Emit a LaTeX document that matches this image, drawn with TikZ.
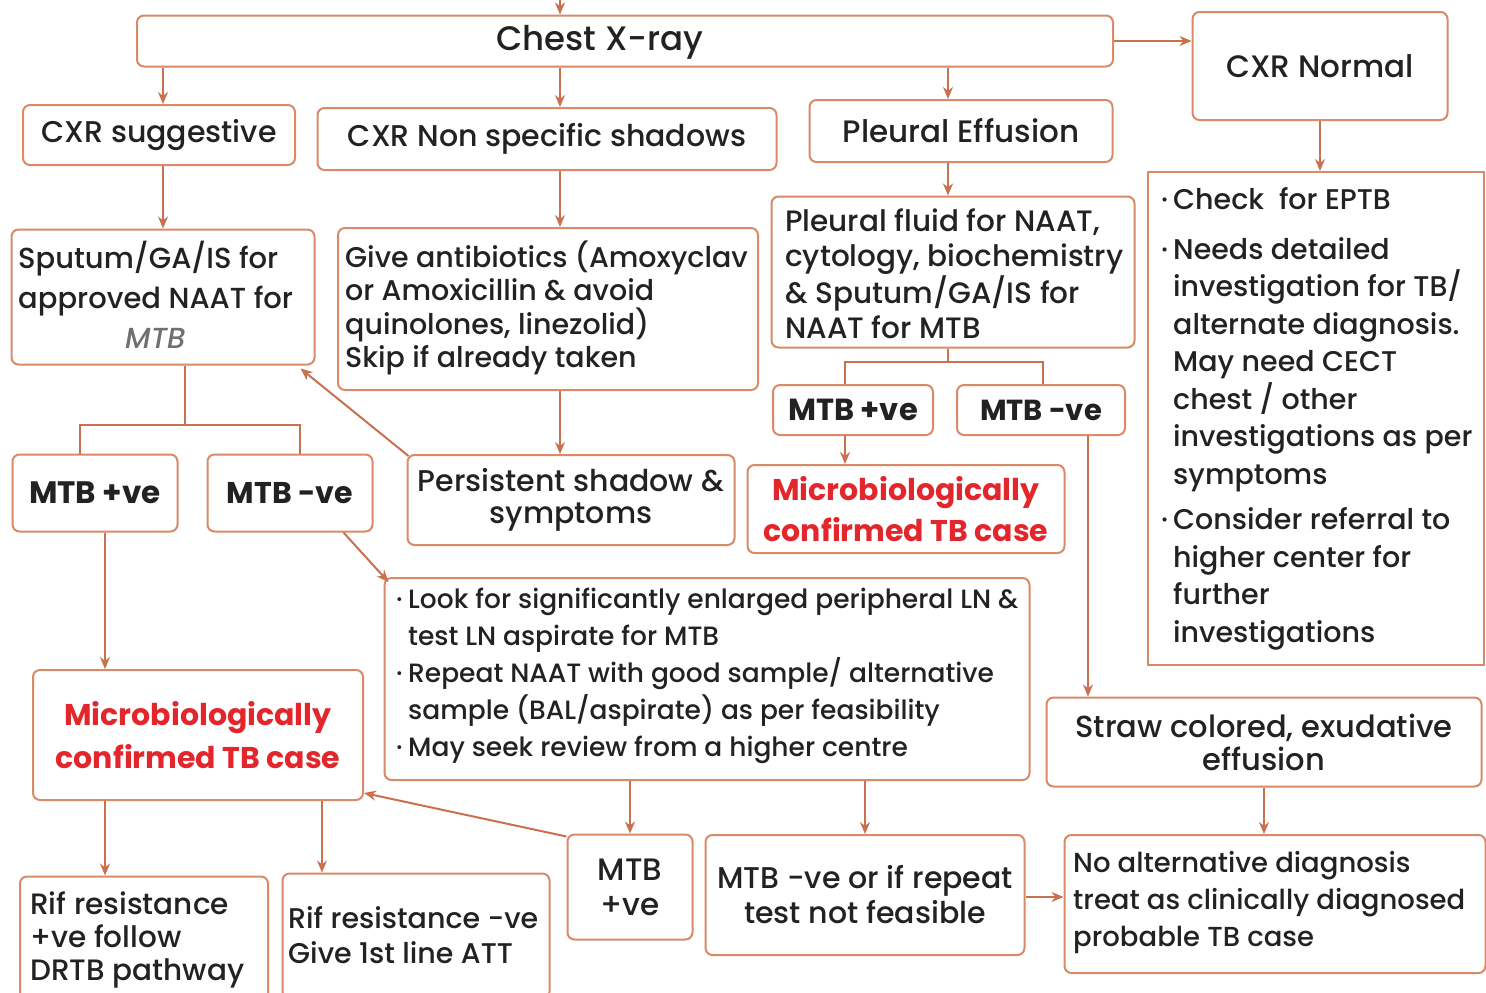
\documentclass[tikz,border=0pt]{standalone}
\usepackage{fontspec}
\setmainfont{Poppins}[UprightFont={* Medium}, ItalicFont={* Medium Italic}, BoldFont={* Bold}]
\usetikzlibrary{arrows.meta,calc}
\definecolor{edge}{HTML}{D98A66}
\definecolor{arrc}{HTML}{C9704E}
\definecolor{txt}{HTML}{222222}
\definecolor{redt}{HTML}{E3262B}
\definecolor{grayt}{HTML}{707070}
\newcommand\bul{\makebox[12pt][l]{·}}
\newcommand\ind{\hspace*{12pt}}
\newcommand\fz[2]{\fontsize{#1}{#2}\selectfont}
\begin{document}
\begin{tikzpicture}[x=1pt,y=-1pt,
  box/.style={draw=edge, line width=2pt, rounded corners=7pt, fill=white, inner sep=2pt, text=txt, align=center},
  tx/.style={anchor=west, align=left, inner sep=0pt, text=txt},
  arr/.style={draw=arrc, line width=2pt, -{Stealth[length=12pt,width=10pt]}},
  ln/.style={draw=arrc, line width=2pt},
]
\useasboundingbox[fill=white] (0,0) rectangle (1486,993);

% top row
\node[box, minimum width=976pt, minimum height=51pt] (chest) at (625,41) {};
\node[text=txt, font=\fz{34}{40}] (chestT) at (600,42) {Chest X-ray};
\node[box, font=\fz{31}{36}, minimum width=255pt, minimum height=108pt] (cxrn) at (1320,66) {CXR Normal};
\node[box, font=\fz{30}{36}, minimum width=272pt, minimum height=60pt] (sugg) at (159,135) {CXR suggestive};
\node[box, font=\fz{30}{36}, minimum width=459pt, minimum height=62pt] (nonspec) at (547,139) {CXR Non specific shadows};
\node[box, font=\fz{31}{36}, minimum width=303pt, minimum height=62pt] (pleff) at (961,131) {Pleural Effusion};

% second row
\node[box, minimum width=303pt, minimum height=135pt] (sput) at (163,297) {};
\node[tx, font=\fz{29}{40}] (sputT) at (18,295)
  {Sputum/GA/IS for\\approved NAAT for\\\hspace*{107pt}{\itshape\color{grayt}MTB}};
\node[box, minimum width=420pt, minimum height=162pt] (abx) at (548,309) {};
\node[tx, font=\fz{28.5}{33.5}] (abxT) at (345,308)
  {Give antibiotics (Amoxyclav\\or Amoxicillin \& avoid\\quinolones, linezolid)\\Skip if already taken};
\node[box, minimum width=363pt, minimum height=151pt] (plfl) at (953,272) {};
\node[tx, font=\fz{29.5}{35}] (plflT) at (785,274)
  {Pleural fluid for NAAT,\\cytology, biochemistry\\\& Sputum/GA/IS for\\NAAT for MTB};
\node[box, minimum width=336pt, minimum height=493pt, rounded corners=0pt] (check) at (1316,418.5) {};
\node[tx, font=\fz{28.5}{37.5}] (checkT) at (1161,419)
  {\bul Check~ for EPTB\\[12pt]
   \bul Needs detailed\\
   \ind investigation for TB/\\
   \ind alternate diagnosis.\\
   \ind May need CECT\\
   \ind chest / other\\
   \ind investigations as per\\
   \ind symptoms\\[8pt]
   \bul Consider referral to\\
   \ind higher center for\\
   \ind further\\
   \ind investigations};

% MTB nodes
\node[box, font=\fz{31}{36}\bfseries, minimum width=165pt, minimum height=77pt] (mtbpL) at (95,493) {MTB +ve};
\node[box, font=\fz{30}{36}\bfseries, minimum width=165pt, minimum height=77pt] (mtbnL) at (290,493) {MTB -ve};
\node[box, font=\fz{30}{32}, minimum width=327pt, minimum height=90pt] (pers) at (571,500) {Persistent shadow \&\\symptoms};
\node[box, font=\fz{30.5}{36}\bfseries, minimum width=160pt, minimum height=50pt] (mtbpR) at (853,410) {MTB +ve};
\node[box, font=\fz{29}{36}\bfseries, minimum width=168pt, minimum height=50pt] (mtbnR) at (1041,410) {MTB -ve};
\node[box, text=redt, font=\fz{30}{41}\bfseries, minimum width=317pt, minimum height=88pt] (microR) at (906,509) {Microbiologically\\confirmed TB case};

% look box
\node[box, minimum width=645pt, minimum height=202pt] (look) at (707,679) {};
\node[tx, font=\fz{26.5}{37}] (lookT) at (396,676)
  {\bul Look for significantly enlarged peripheral LN \&\\
   \ind test LN aspirate for MTB\\
   \bul Repeat NAAT with good sample/ alternative\\
   \ind sample (BAL/aspirate) as per feasibility\\
   \bul May seek review from a higher centre};

\node[box, text=redt, font=\fz{30}{43}\bfseries, minimum width=330pt, minimum height=130pt] (microL) at (198,735) {Microbiologically\\confirmed TB case};
\node[box, font=\fz{30.5}{33}, minimum width=435pt, minimum height=89pt] (straw) at (1264,742) {Straw colored, exudative\\effusion};

% bottom row
\node[box, minimum width=248pt, minimum height=125pt] (rifp) at (144,939) {};
\node[tx, font=\fz{29.5}{33}] (rifpT) at (30,940) {Rif resistance\\+ve follow\\DRTB pathway};
\node[box, minimum width=267pt, minimum height=125pt] (rifn) at (416,936) {};
\node[tx, font=\fz{28.5}{35}] (rifnT) at (288,935) {Rif resistance -ve\\Give 1st line ATT};
\node[box, font=\fz{31}{35}, minimum width=125pt, minimum height=105pt] (mtbpB) at (630,887) {MTB\\+ve};
\node[box, font=\fz{30}{35}, minimum width=319pt, minimum height=120pt] (mtbnB) at (865,895) {MTB -ve or if repeat\\test not feasible};
\node[box, minimum width=421pt, minimum height=138pt] (noalt) at (1275,904) {};
\node[tx, font=\fz{27.5}{37}] (noaltT) at (1073,903) {No alternative diagnosis\\treat as clinically diagnosed\\probable TB case};

% connectors
\coordinate (topin) at (560,-20);
\draw[arr] (topin) -- (topin |- chest.north);
\draw[arr] (chest.east) -- (cxrn.west |- chest.east);
\draw[arr] ([xshift=4pt]sugg.north |- chest.south) -- ([xshift=4pt]sugg.north);
\draw[arr] ([xshift=13pt]nonspec.north |- chest.south) -- ([xshift=13pt]nonspec.north);
\draw[arr] ([xshift=-13pt]pleff.north |- chest.south) -- ([xshift=-13pt]pleff.north);
\draw[arr] ([xshift=4pt]sugg.south) -- ([xshift=4pt]sugg.south |- sput.north);
\draw[arr] ([xshift=13pt]nonspec.south) -- ([xshift=13pt]nonspec.south |- abx.north);
\draw[arr] ([xshift=-13pt]pleff.south) -- ([xshift=-13pt]pleff.south |- plfl.north);
\draw[arr] (cxrn.south) -- (cxrn.south |- check.north);
\draw[arr] ([xshift=12pt]abx.south) -- ([xshift=12pt]abx.south |- pers.north);
\draw[arr] ([xshift=2pt,yshift=-2pt]pers.north west) -- ([xshift=-15pt,yshift=-3pt]sput.south east);

% sputum tree
\coordinate (j1) at (185,425);
\draw[ln] ([xshift=22pt]sput.south) -- (j1);
\draw[ln] ([xshift=-15pt]mtbpL.north) |- (j1) -| ([xshift=10pt]mtbnL.north);
\draw[arr] ([xshift=10pt]mtbpL.south) -- ([xshift=10pt]mtbpL.south |- microL.north);
\draw[arr] ([xshift=-30pt]mtbnL.south east) -- ([xshift=5pt,yshift=-5pt]look.north west);

% pleural tree
\coordinate (j2) at (948,362);
\draw[ln] ([xshift=-5pt]plfl.south) -- (j2);
\draw[ln] ([xshift=-8pt]mtbpR.north) |- (j2) -| ([xshift=2pt]mtbnR.north);
\draw[arr] ([xshift=-8pt]mtbpR.south) -- ([xshift=-8pt]mtbpR.south |- microR.north);
\draw[arr] ([xshift=47pt]mtbnR.south) -- ([xshift=47pt]mtbnR.south |- straw.north);
\draw[arr] (straw.south) -- (straw.south |- noalt.north);

% bottom
\draw[arr] ([xshift=-93pt]microL.south) -- ([xshift=-93pt]microL.south |- rifp.north);
\draw[arr] ([xshift=124pt]microL.south) -- ([xshift=124pt]microL.south |- rifn.north);
\draw[arr] (mtbpB.north |- look.south) -- (mtbpB.north);
\draw[arr] (mtbnB.north |- look.south) -- (mtbnB.north);
\draw[arr] ([yshift=-3pt]mtbpB.north west) -- ([yshift=8pt]microL.south east);
\draw[arr] ([yshift=-2pt]mtbnB.east) -- ([yshift=-2pt]noalt.west |- mtbnB.east);
\end{tikzpicture}
\end{document}
